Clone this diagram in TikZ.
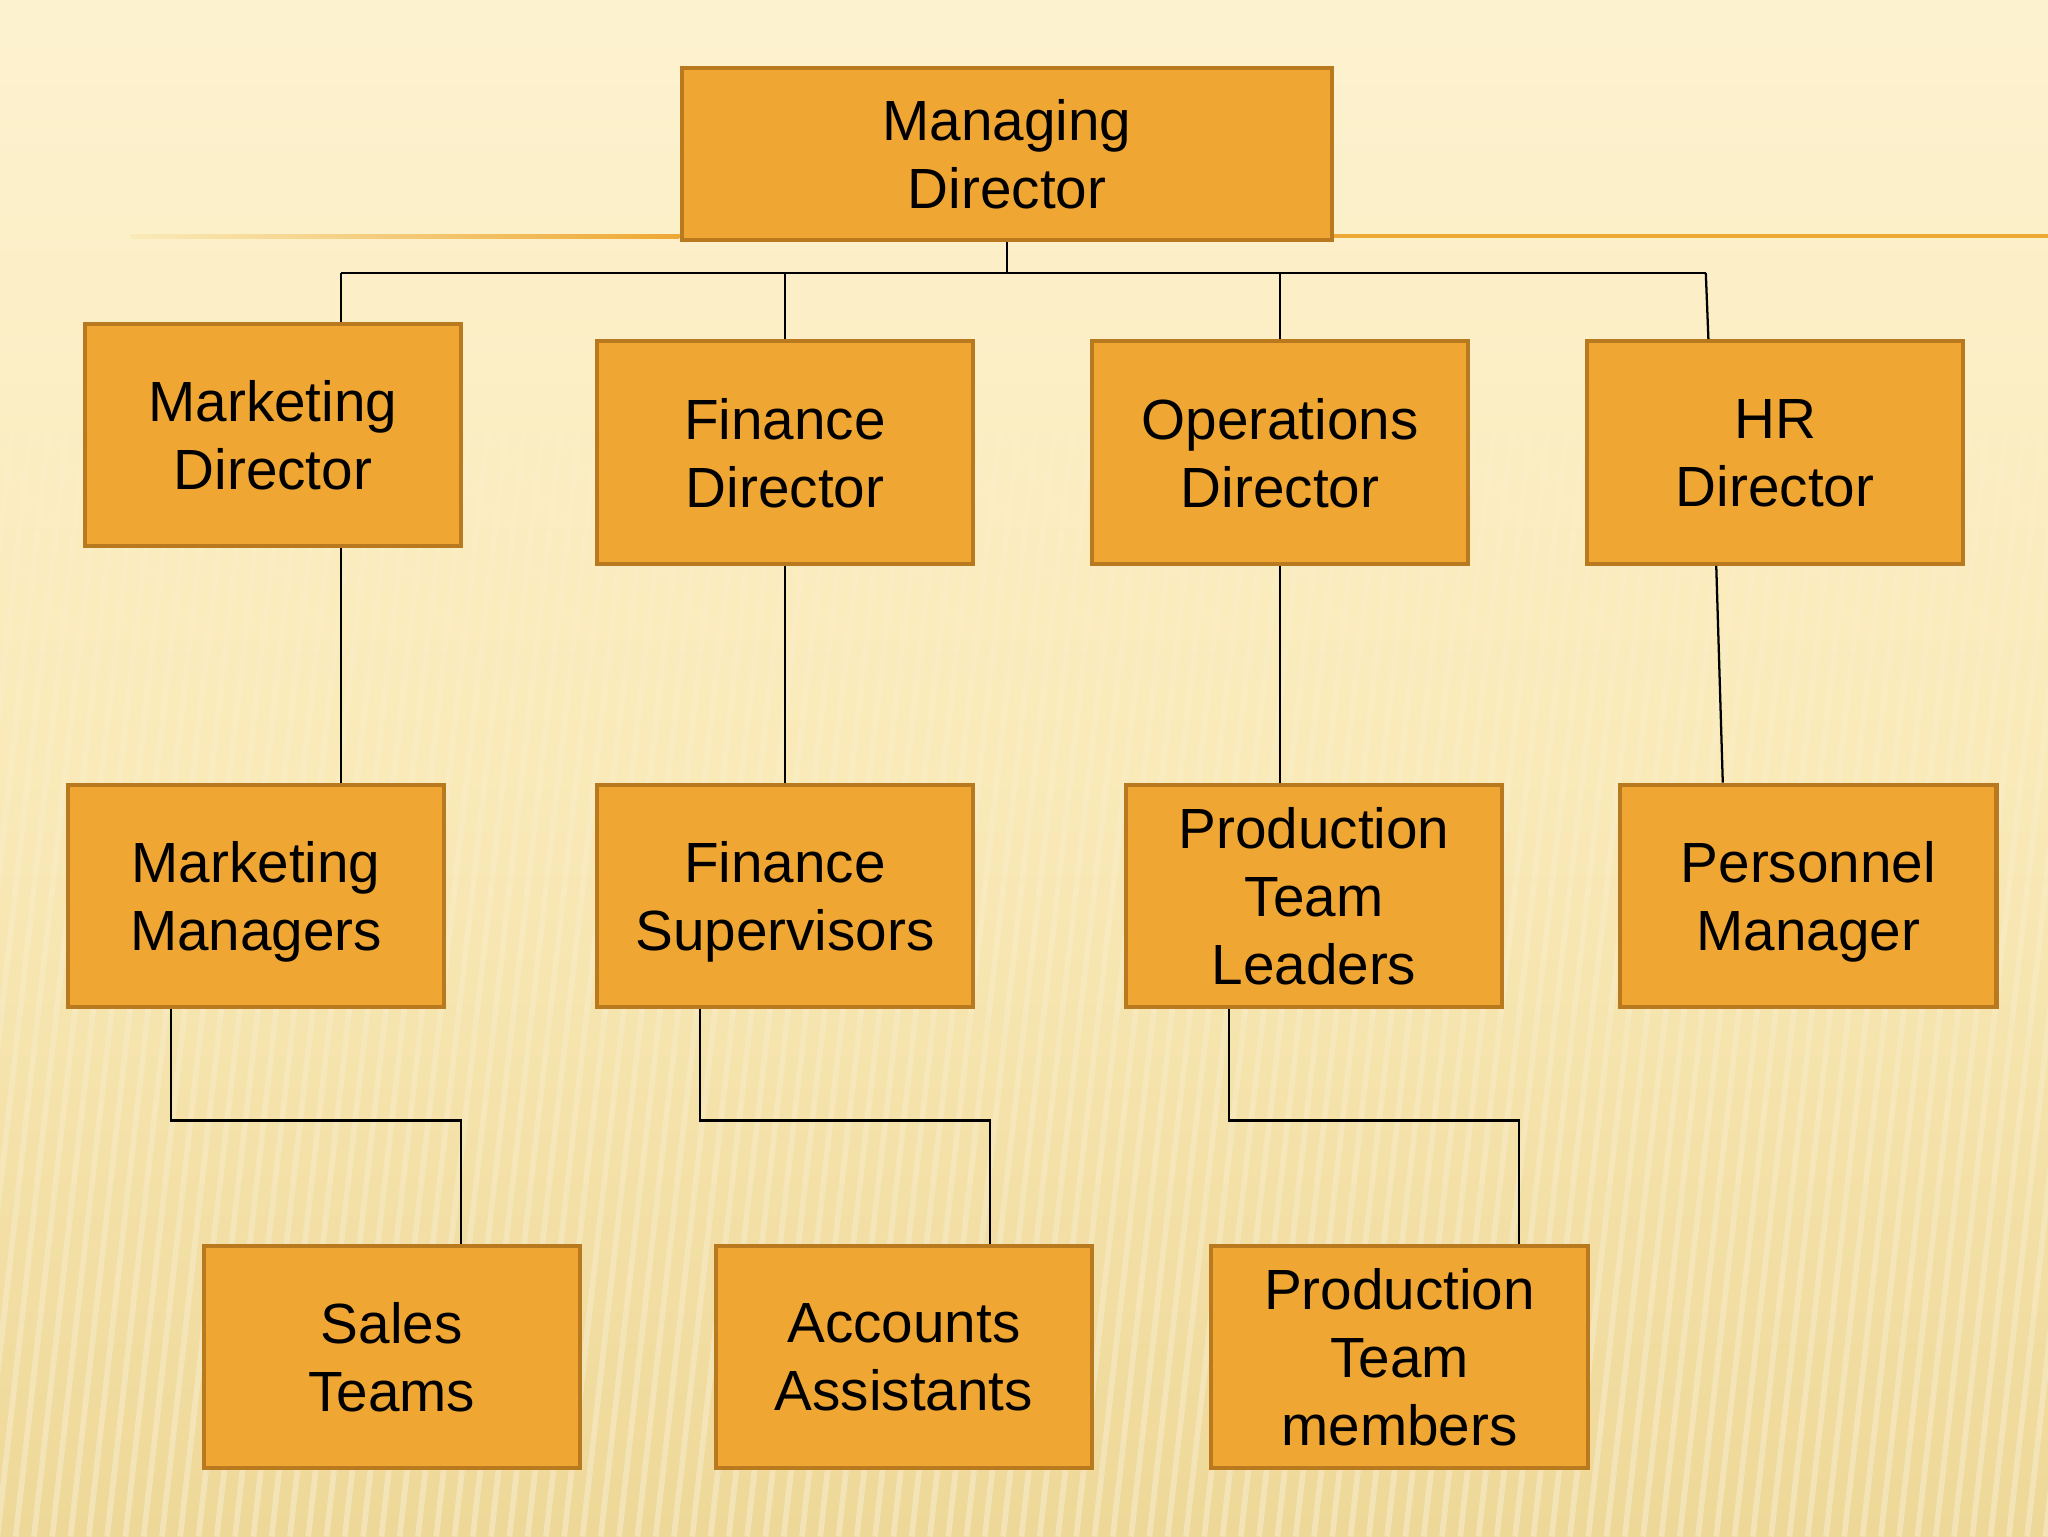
\documentclass[tikz,border=0pt]{standalone}
\usepackage{fontspec}
\setmainfont{Liberation Sans}
\usetikzlibrary{calc,fadings}
\definecolor{boxfill}{RGB}{240,166,50}
\definecolor{boxline}{RGB}{184,121,31}
\definecolor{bgtop}{RGB}{253,242,208}
\definecolor{bgmid}{RGB}{250,234,185}
\definecolor{bgbot}{RGB}{238,216,152}
\definecolor{rule}{RGB}{238,168,52}

\begin{document}
\begin{tikzpicture}[x=0.0162cm,y=-0.0162cm,
  orgbox/.style={draw=boxline,fill=boxfill,line width=1.5pt,
    minimum width=4.67cm,minimum height=2.76cm,inner sep=0pt,
    text depth=0pt,align=center,font=\fontsize{20}{24}\selectfont},
  link/.style={draw=black,line width=0.8pt}]
  \useasboundingbox (0,0) rectangle (1568,1176);
  % background
  \shade[top color=bgtop,bottom color=bgbot,middle color=bgmid] (0,0) rectangle (1568,1176);
  \foreach \x in {-240,-226,...,1568}
    \draw[white,opacity=0.3,line width=2pt,path fading=north] (\x,1176) -- (\x+110,200);
  \shade[left color=bgmid,right color=rule] (100,179.5) rectangle (520,182.5);
  \fill[rule] (520,179.5) rectangle (1568,182.5);

  \node[orgbox,minimum width=8.07cm,minimum height=2.14cm] (md) at (771,118) {Managing\\Director};
  \node[orgbox] (mkd) at (209,333) {Marketing\\Director};
  \node[orgbox] (fid) at (601,346.5) {Finance\\Director};
  \node[orgbox] (opd) at (980,346.5) {Operations\\Director};
  \node[orgbox] (hrd) at (1359,346.5) {HR\\Director};
  \node[orgbox] (mkm) at (196,686) {Marketing\\Managers};
  \node[orgbox] (fis) at (601,686) {Finance\\Supervisors};
  \node[orgbox] (ptl) at (1006,686) {Production\\Team\\Leaders};
  \node[orgbox] (pem) at (1384.5,686) {Personnel\\Manager};
  \node[orgbox] (sat) at (300,1039) {Sales\\Teams};
  \node[orgbox] (aca) at (692,1039) {Accounts\\Assistants};
  \node[orgbox] (ptm) at (1071.5,1039) {Production\\Team\\members};

  \coordinate (bl) at (261,209);
  \coordinate (br) at (1306,209);
  \draw[link] (md.south) -- (md.south |- bl);
  \draw[link] (bl) -- (br);
  \draw[link] (bl) -- (bl |- mkd.north);
  \draw[link] (fid.north |- bl) -- (fid.north);
  \draw[link] (opd.north |- bl) -- (opd.north);
  \draw[link] (br) -- ($(hrd.north)+(-51,0)$);

  \draw[link] (bl |- mkd.south) -- (bl |- mkm.north);
  \draw[link] (fid.south) -- (fis.north);
  \draw[link] (opd.south) -- (opd.south |- ptl.north);
  \draw[link] ($(hrd.south)+(-45,0)$) -- ($(pem.north)+(-65.5,0)$);

  \draw[link] ($(mkm.south)+(-65,0)$) -- ++(0,85) -| ($(sat.north)+(53,0)$);
  \draw[link] ($(fis.south)+(-65,0)$) -- ++(0,85) -| ($(aca.north)+(66,0)$);
  \draw[link] ($(ptl.south)+(-65,0)$) -- ++(0,85) -| ($(ptm.north)+(91.5,0)$);
\end{tikzpicture}
\end{document}
